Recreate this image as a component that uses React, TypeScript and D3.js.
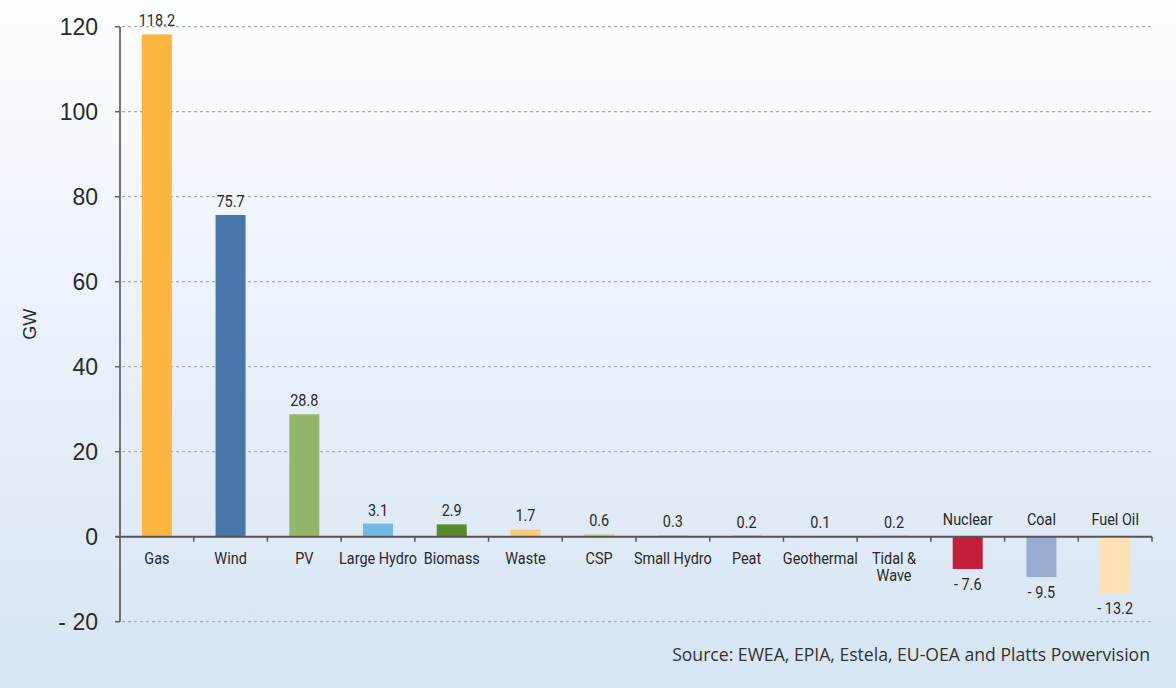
import React from "react";
import * as d3 from "d3";

// Net change in installed capacity by technology (GW)
const categories = [
  "Gas",
  "Wind",
  "PV",
  "Large Hydro",
  "Biomass",
  "Waste",
  "CSP",
  "Small Hydro",
  "Peat",
  "Geothermal",
  "Tidal &\nWave",
  "Nuclear",
  "Coal",
  "Fuel Oil",
];
const values = [118.2, 75.7, 28.8, 3.1, 2.9, 1.7, 0.6, 0.3, 0.2, 0.1, 0.2, -7.6, -9.5, -13.2];
const barColors = [
  "#FBB540",
  "#4676AA",
  "#93B76A",
  "#74B9E7",
  "#5A8A2E",
  "#FDC97A",
  "#C5DA9E",
  "#A9C9E8",
  "#9E2B3A",
  "#2D6A6A",
  "#8C7BB5",
  "#C41E3A",
  "#97ADCF",
  "#FFE1B3",
];
const yTicks = [-20, 0, 20, 40, 60, 80, 100, 120];
const yLabel = "GW";
const sourceNote = "Source: EWEA, EPIA, Estela, EU-OEA and Platts Powervision";

const W = 1176;
const H = 688;
const left = 120;
const right = 1152;

const numFmt = d3.format(".1f");
const signed = (v: number, f: (n: number) => string) => (v < 0 ? `- ${f(Math.abs(v))}` : f(v));

// condensed look: Roboto squeezed horizontally
const condFont = "Roboto, 'Noto Sans', sans-serif";
const squeeze = 0.85;

function CondText({ x, y, children, dy }: { x: number; y: number; children: React.ReactNode; dy?: string }) {
  return (
    <text
      transform={`translate(${x},${y}) scale(${squeeze},1)`}
      dy={dy}
      textAnchor="middle"
      fontFamily={condFont}
      fontSize={17}
      fill="#2a2a2a"
    >
      {children}
    </text>
  );
}

export default function App() {
  const x = d3
    .scaleBand<string>()
    .domain(categories)
    .range([left, right])
    .paddingInner(0.593)
    .paddingOuter(0.2965);
  const y = d3.scaleLinear().domain([-20, 120]).range([621.7, 26.7]);
  const y0 = y(0);
  const step = x.step();
  const boundaries = d3.range(categories.length + 1).map((i) => left + i * step);

  return (
    <svg
      width={W}
      height={H}
      viewBox={`0 0 ${W} ${H}`}
      style={{ position: "absolute", left: 0, top: 0, display: "block" }}
    >
      <defs>
        <linearGradient id="bg" x1="0" y1="0" x2="0" y2="1">
          <stop offset="0" stopColor="#FCFDFF" />
          <stop offset="0.35" stopColor="#EFF4FB" />
          <stop offset="1" stopColor="#D6E5F2" />
        </linearGradient>
      </defs>
      <rect x={0} y={0} width={W} height={H} fill="url(#bg)" />

      {/* horizontal grid */}
      {yTicks
        .filter((t) => t !== 0)
        .map((t) => (
          <line
            key={`g${t}`}
            x1={left - 4}
            x2={right}
            y1={y(t)}
            y2={y(t)}
            stroke="#A9ADB3"
            strokeWidth={1.2}
            strokeDasharray="3,3"
          />
        ))}

      {/* y ticks and labels */}
      {yTicks.map((t) => (
        <g key={`t${t}`}>
          <line x1={left - 5} x2={left} y1={y(t)} y2={y(t)} stroke="#666" strokeWidth={1.5} />
          <text
            x={98}
            y={y(t)}
            dy="0.36em"
            textAnchor="end"
            fontFamily="'Liberation Sans', Arial, sans-serif"
            fontSize={23}
            fill="#2a2a2a"
          >
            {signed(t, (n) => String(n))}
          </text>
        </g>
      ))}

      <text
        transform={`translate(36,${(y(60) + y(40)) / 2}) rotate(-90)`}
        textAnchor="middle"
        fontFamily="'Liberation Sans', Arial, sans-serif"
        fontSize={18}
        fill="#2a2a2a"
      >
        {yLabel}
      </text>

      {/* bars */}
      {categories.map((c, i) => {
        const v = values[i];
        const top = Math.min(y(v), y0);
        const h = Math.abs(y(v) - y0);
        return (
          <rect key={`b${i}`} x={x(c)} y={top} width={x.bandwidth()} height={h} fill={barColors[i]} />
        );
      })}

      {/* axes */}
      <line x1={left} x2={left} y1={y(120)} y2={y(-20)} stroke="#666" strokeWidth={1.8} />
      <line x1={left - 4} x2={right} y1={y0} y2={y0} stroke="#555" strokeWidth={2} />
      {boundaries.slice(1).map((bx, i) => (
        <line key={`xt${i}`} x1={bx} x2={bx} y1={y0} y2={y0 + 5} stroke="#555" strokeWidth={1.5} />
      ))}

      {/* value labels */}
      {categories.map((c, i) => {
        const v = values[i];
        const cx = (x(c) as number) + x.bandwidth() / 2;
        return (
          <CondText key={`v${i}`} x={cx} y={v >= 0 ? y(v) - 8 : y(v) + 8} dy={v >= 0 ? "0" : "0.75em"}>
            {signed(v, numFmt)}
          </CondText>
        );
      })}

      {/* category labels */}
      {categories.map((c, i) => {
        const v = values[i];
        const cx = (x(c) as number) + x.bandwidth() / 2;
        const lines = c.split("\n");
        const baseY = v >= 0 ? y0 + 27 : y0 - 12;
        return (
          <CondText key={`c${i}`} x={cx} y={baseY}>
            {lines.map((ln, j) => (
              <tspan key={j} x={0} dy={j === 0 ? 0 : 17}>
                {ln}
              </tspan>
            ))}
          </CondText>
        );
      })}

      <text
        x={1150}
        y={661}
        textAnchor="end"
        fontFamily="'Open Sans', sans-serif"
        fontSize={17.6}
        fill="#333"
      >
        {sourceNote}
      </text>
    </svg>
  );
}
